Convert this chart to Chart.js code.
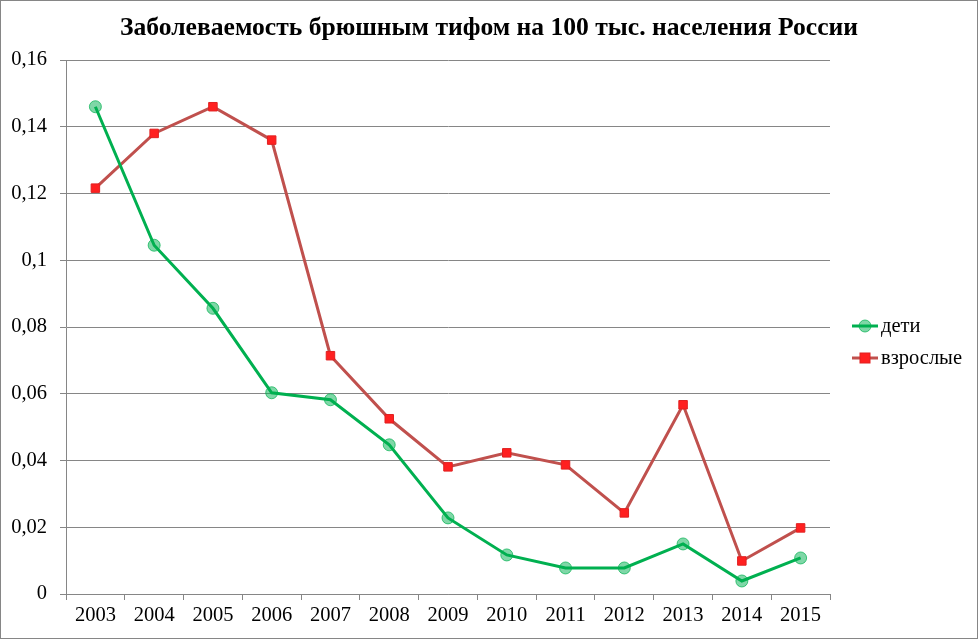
<!DOCTYPE html>
<html>
<head>
<meta charset="utf-8">
<script src="https://cdn.jsdelivr.net/npm/chart.js@4/dist/chart.umd.min.js"></script>
<style>
  html, body { margin: 0; padding: 0; background: #fff; }
  #wrap { width: 978px; height: 639px; box-sizing: border-box; border: 1px solid #868686; }
</style>
</head>
<body>
<div id="wrap"><canvas id="chart" width="976" height="637"></canvas></div>
<script>
// Заболеваемость брюшным тифом, на 100 тыс. населения
const years = ['2003', '2004', '2005', '2006', '2007', '2008', '2009',
               '2010', '2011', '2012', '2013', '2014', '2015'];
const children = [0.146, 0.1045, 0.0856, 0.0603, 0.0582, 0.0447, 0.0228,
                  0.0117, 0.0078, 0.0078, 0.015, 0.0039, 0.0108];
const adults = [0.1216, 0.138, 0.146, 0.136, 0.0714, 0.0525, 0.0381,
                0.0423, 0.0387, 0.0243, 0.0567, 0.0099, 0.0198];
const titleText = 'Заболеваемость брюшным тифом на 100 тыс. населения России';

const FONT = "'Liberation Serif', 'Times New Roman', serif";
const AXIS = '#868686';
const LABEL_SIZE = 20.5;

// title centred over the whole canvas, not just the plot
const topTitle = {
  id: 'topTitle',
  afterDraw(chart) {
    const ctx = chart.ctx;
    ctx.save();
    ctx.fillStyle = '#000';
    ctx.font = 'bold 25.6px ' + FONT;
    ctx.textAlign = 'center';
    ctx.textBaseline = 'middle';
    ctx.fillText(titleText, 488, 27);
    ctx.restore();
  }
};

// legend drawn by hand: line with marker, then label
const sideLegend = {
  id: 'sideLegend',
  afterDraw(chart) {
    const ctx = chart.ctx;
    const x0 = 851, ys = [325, 357];
    chart.data.datasets.forEach((ds, i) => {
      const y = ys[i];
      ctx.save();
      ctx.strokeStyle = ds.borderColor;
      ctx.lineWidth = 3;
      ctx.beginPath();
      ctx.moveTo(x0, y); ctx.lineTo(x0 + 26, y);
      ctx.stroke();
      ctx.fillStyle = ds.pointBackgroundColor;
      ctx.strokeStyle = ds.pointBorderColor;
      ctx.lineWidth = 1;
      if (ds.pointStyle === 'circle') {
        ctx.beginPath();
        ctx.arc(x0 + 13, y, 6, 0, Math.PI * 2);
        ctx.fill(); ctx.stroke();
      } else {
        ctx.fillRect(x0 + 8, y - 5, 10, 10);
        ctx.strokeRect(x0 + 8, y - 5, 10, 10);
      }
      ctx.fillStyle = '#000';
      ctx.font = LABEL_SIZE + 'px ' + FONT;
      ctx.textBaseline = 'middle';
      ctx.fillText(ds.label, x0 + 29, y + 1);
      ctx.restore();
    });
  }
};

new Chart(document.getElementById('chart').getContext('2d'), {
  type: 'line',
  data: {
    labels: years,
    datasets: [
      {
        label: 'дети',
        data: children,
        borderColor: '#00b050',
        borderWidth: 3,
        pointStyle: 'circle',
        pointRadius: 6,
        pointBackgroundColor: 'rgba(0,176,80,0.5)',
        pointBorderColor: 'rgba(0,176,80,0.7)',
        pointBorderWidth: 1,
        tension: 0
      },
      {
        label: 'взрослые',
        data: adults,
        borderColor: '#c0504d',
        borderWidth: 3,
        pointStyle: 'rect',
        pointRadius: 6,
        pointBackgroundColor: '#ff2020',
        pointBorderColor: '#e02020',
        pointBorderWidth: 1,
        tension: 0
      }
    ]
  },
  options: {
    responsive: false,
    animation: false,
    layout: { padding: { left: 0, right: 147, top: 59, bottom: 0 } },
    plugins: {
      legend: { display: false },
      tooltip: { enabled: false },
      title: { display: false }
    },
    scales: {
      x: {
        offset: true,
        grid: { display: true, offset: true, drawOnChartArea: false, drawTicks: true,
                tickLength: 6, color: AXIS },
        border: { color: AXIS, width: 1 },
        ticks: { color: '#000', font: { family: FONT, size: LABEL_SIZE }, padding: 3,
                 maxRotation: 0, autoSkip: false },
        afterFit: s => { s.height = 44; }
      },
      y: {
        min: 0,
        max: 0.16,
        grid: { color: AXIS, tickLength: 6 },
        border: { color: AXIS, width: 1 },
        ticks: {
          stepSize: 0.02,
          color: '#000',
          font: { family: FONT, size: LABEL_SIZE },
          padding: 13,
          callback: v => String(parseFloat(v.toFixed(2))).replace('.', ',')
        },
        afterFit: s => { s.width = 65; }
      }
    }
  },
  plugins: [topTitle, sideLegend]
});
</script>
</body>
</html>
